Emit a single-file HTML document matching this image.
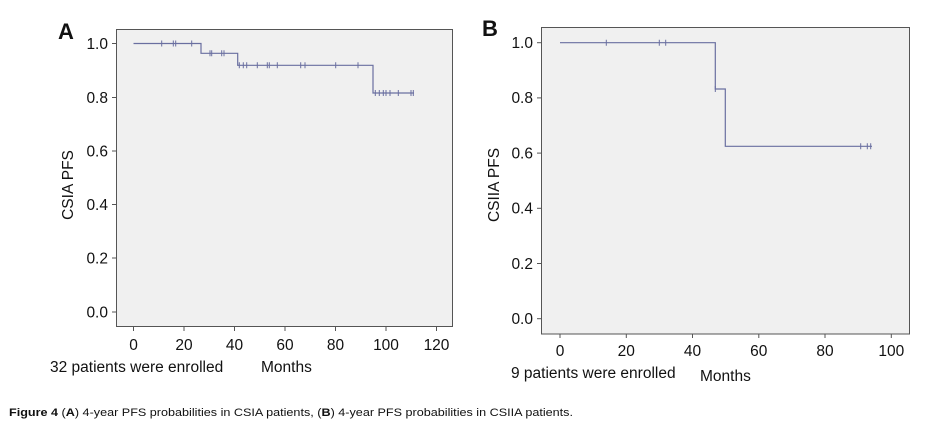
<!DOCTYPE html>
<html><head><meta charset="utf-8"><style>
html,body{margin:0;padding:0;background:#fff;}
svg{display:block;}
text{font-family:"Liberation Sans",sans-serif;fill:#111;}
</style></head><body>
<svg width="928" height="433" viewBox="0 0 928 433" xmlns="http://www.w3.org/2000/svg">
<!-- Panel A -->
<rect x="116.5" y="29.5" width="336" height="297" fill="#f0f0f0" stroke="#555" stroke-width="1"/>
<g stroke="#555" stroke-width="1">
<line x1="112" y1="43.5" x2="116" y2="43.5"/><line x1="112" y1="97.5" x2="116" y2="97.5"/><line x1="112" y1="151" x2="116" y2="151"/><line x1="112" y1="204.5" x2="116" y2="204.5"/><line x1="112" y1="258" x2="116" y2="258"/><line x1="112" y1="312" x2="116" y2="312"/>
<line x1="133.5" y1="327" x2="133.5" y2="331"/><line x1="184" y1="327" x2="184" y2="331"/><line x1="234.5" y1="327" x2="234.5" y2="331"/><line x1="285" y1="327" x2="285" y2="331"/><line x1="335.5" y1="327" x2="335.5" y2="331"/><line x1="386" y1="327" x2="386" y2="331"/><line x1="436.5" y1="327" x2="436.5" y2="331"/>
</g>
<g font-size="15.5" text-anchor="end">
<text x="108" y="49">1.0</text><text x="108" y="103">0.8</text><text x="108" y="156.5">0.6</text><text x="108" y="210">0.4</text><text x="108" y="263.5">0.2</text><text x="108" y="317.5">0.0</text>
</g>
<g font-size="15.5" text-anchor="middle">
<text x="133.5" y="350">0</text><text x="184" y="350">20</text><text x="234.5" y="350">40</text><text x="285" y="350">60</text><text x="335.5" y="350">80</text><text x="386" y="350">100</text><text x="436.5" y="350">120</text>
</g>
<text x="50" y="372" font-size="15.5">32 patients were enrolled</text>
<text x="261" y="372" font-size="15.5">Months</text>
<text transform="translate(73,185) rotate(-90)" font-size="15.5" text-anchor="middle">CSIA PFS</text>
<text x="58" y="39" font-size="22" font-weight="bold">A</text>
<polyline fill="none" stroke="#6a6fa0" stroke-width="1.2" points="133.5,43.5 201,43.5 201,53.3 237.7,53.3 237.7,65.3 373,65.3 373,93 414,93"/>
<g stroke="#6a6fa0" stroke-width="1">
<path d="M161.7 40.5v6M173.3 40.5v6M175.7 40.5v6M191.7 40.5v6M210 50.3v6M211.7 50.3v6M221.7 50.3v6M224 50.3v6M239.3 62.3v6M243.3 62.3v6M246.7 62.3v6M257.3 62.3v6M267.3 62.3v6M269.3 62.3v6M277.3 62.3v6M300.7 62.3v6M305 62.3v6M335.7 62.3v6M358 62.3v6M375.3 90v6M379.3 90v6M383.3 90v6M386 90v6M390 90v6M398.3 90v6M411 90v6M413.3 90v6"/>
</g>
<!-- Panel B -->
<rect x="541.5" y="27.5" width="368" height="306.5" fill="#f0f0f0" stroke="#555" stroke-width="1"/>
<g stroke="#555" stroke-width="1">
<line x1="537" y1="42.7" x2="541" y2="42.7"/><line x1="537" y1="97.9" x2="541" y2="97.9"/><line x1="537" y1="153.1" x2="541" y2="153.1"/><line x1="537" y1="208.3" x2="541" y2="208.3"/><line x1="537" y1="263.5" x2="541" y2="263.5"/><line x1="537" y1="318.7" x2="541" y2="318.7"/>
<line x1="560" y1="334" x2="560" y2="338"/><line x1="626.3" y1="334" x2="626.3" y2="338"/><line x1="692.5" y1="334" x2="692.5" y2="338"/><line x1="758.8" y1="334" x2="758.8" y2="338"/><line x1="825" y1="334" x2="825" y2="338"/><line x1="891.3" y1="334" x2="891.3" y2="338"/>
</g>
<g font-size="15.5" text-anchor="end">
<text x="533" y="48">1.0</text><text x="533" y="103.2">0.8</text><text x="533" y="158.4">0.6</text><text x="533" y="213.6">0.4</text><text x="533" y="268.8">0.2</text><text x="533" y="324">0.0</text>
</g>
<g font-size="15.5" text-anchor="middle">
<text x="560" y="356">0</text><text x="626.3" y="356">20</text><text x="692.5" y="356">40</text><text x="758.8" y="356">60</text><text x="825" y="356">80</text><text x="891.3" y="356">100</text>
</g>
<text x="511" y="378" font-size="15.5">9 patients were enrolled</text>
<text x="700" y="381" font-size="15.5">Months</text>
<text transform="translate(499,185) rotate(-90)" font-size="15.5" text-anchor="middle">CSIIA PFS</text>
<text x="482" y="36" font-size="22" font-weight="bold">B</text>
<polyline fill="none" stroke="#6a6fa0" stroke-width="1.2" points="560,42.7 715.3,42.7 715.3,89 725.3,89 725.3,146.3 872,146.3"/>
<g stroke="#6a6fa0" stroke-width="1">
<path d="M606.3 39.7v6M659.3 39.7v6M665.7 39.7v6M715.3 86v6M860.7 143.3v6M867.3 143.3v6M870.7 143.3v6"/>
</g>
<!-- Caption -->
<text x="9" y="416" font-size="11" textLength="564" lengthAdjust="spacingAndGlyphs"><tspan font-weight="bold">Figure 4</tspan> (<tspan font-weight="bold">A</tspan>) 4-year PFS probabilities in CSIA patients, (<tspan font-weight="bold">B</tspan>) 4-year PFS probabilities in CSIIA patients.</text>
</svg>
</body></html>
